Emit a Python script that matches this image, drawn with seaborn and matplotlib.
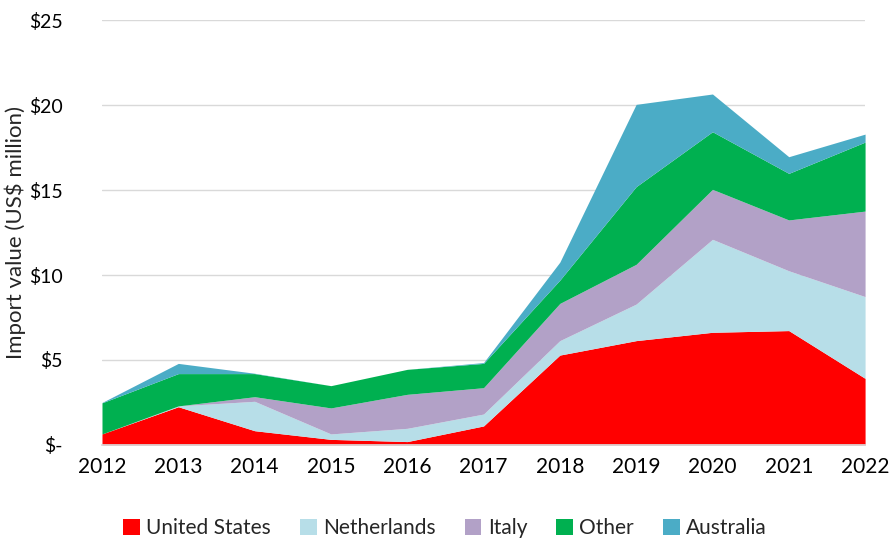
import numpy as np
import pandas as pd
import seaborn as sns
import matplotlib.pyplot as plt
from matplotlib.patches import Patch

years = [2012, 2013, 2014, 2015, 2016, 2017, 2018, 2019, 2020, 2021, 2022]
united_states = [0.65, 2.25, 0.84, 0.33, 0.20, 1.12, 5.29, 6.14, 6.63, 6.73, 3.92]
netherlands = [0.00, 0.05, 1.73, 0.32, 0.78, 0.70, 0.85, 2.15, 5.47, 3.52, 4.81]
italy = [0.00, 0.00, 0.27, 1.53, 2.00, 1.55, 2.19, 2.34, 2.94, 2.99, 5.03]
other = [1.83, 1.90, 1.36, 1.31, 1.47, 1.43, 1.37, 4.57, 3.39, 2.74, 4.06]
australia = [0.02, 0.60, 0.02, 0.00, 0.00, 0.05, 1.06, 4.84, 2.22, 0.98, 0.47]

series = ['United States', 'Netherlands', 'Italy', 'Other', 'Australia']
colors = ['#FF0000', '#B7DEE8', '#B2A1C7', '#00B050', '#4BACC6']

df = pd.DataFrame({
    'United States': united_states,
    'Netherlands': netherlands,
    'Italy': italy,
    'Other': other,
    'Australia': australia,
}, index=years)

sns.set_theme(style='white')
plt.rcParams['font.family'] = ['Lato', 'DejaVu Sans']

fig = plt.figure(figsize=(8.9, 5.42), dpi=100)
ax = fig.add_axes([0.1146, 0.179, 0.8574, 0.784])

ax.stackplot(df.index, [df[s] for s in series], colors=colors,
             labels=series, linewidth=0)

ax.set_xlim(2012, 2022)
ax.set_ylim(0, 25)
ax.set_xticks(years)
ax.set_yticks([0, 5, 10, 15, 20, 25])
ax.set_yticklabels(['$-', '$5', '$10', '$15', '$20', '$25'])
ax.tick_params(axis='both', length=0, colors='black')
ax.tick_params(axis='x', labelsize=15, pad=9)
ax.tick_params(axis='y', labelsize=14, pad=28)
ax.yaxis.grid(True, color='#D9D9D9', linewidth=1)
ax.set_axisbelow(True)
for side in ['top', 'right', 'left']:
    ax.spines[side].set_visible(False)
ax.spines['bottom'].set_color('#D9D9D9')
ax.set_ylabel('Import value (US$ million)', fontsize=16)
ax.yaxis.set_label_coords(-0.1, 0.5)

handles = [Patch(facecolor=c, edgecolor='none') for c in colors]
fig.legend(handles, series, loc='center', bbox_to_anchor=(0.5, 0.026),
           ncol=5, frameon=False, fontsize=15, handlelength=0.8,
           handleheight=0.8, handletextpad=0.3, columnspacing=1.4)

fig.savefig('out.png', dpi=100)
